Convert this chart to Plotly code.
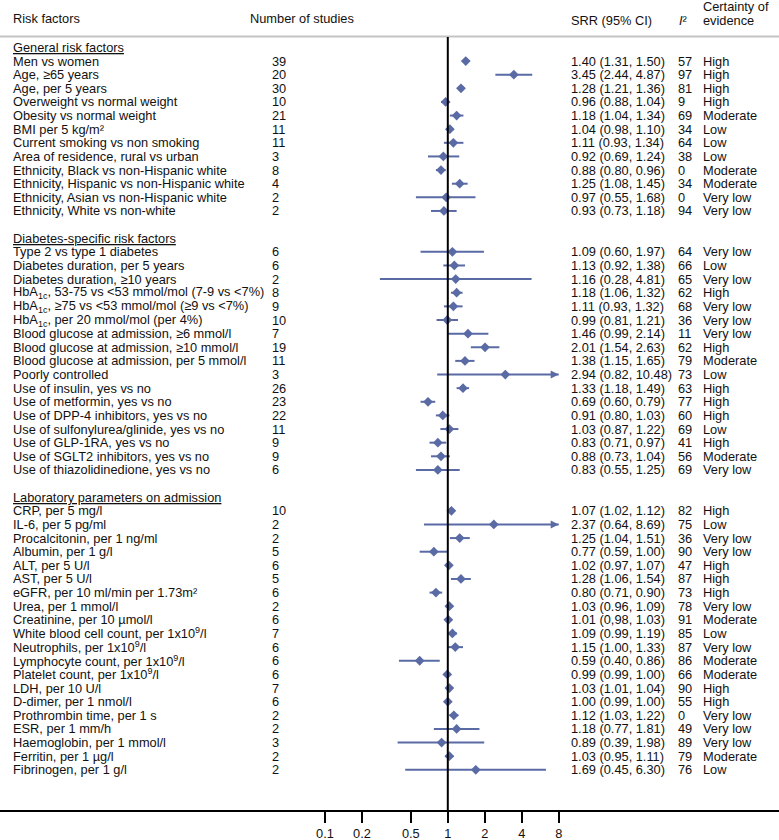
import plotly.graph_objects as go

# ---------------- data ----------------
gen_title = "General risk factors"
gen_labels = ["Men vs women", "Age, ≥65 years", "Age, per 5 years", "Overweight vs normal weight",
              "Obesity vs normal weight", "BMI per 5 kg/m²", "Current smoking vs non smoking",
              "Area of residence, rural vs urban", "Ethnicity, Black vs non-Hispanic white",
              "Ethnicity, Hispanic vs non-Hispanic white", "Ethnicity, Asian vs non-Hispanic white",
              "Ethnicity, White vs non-white"]
gen_n = [39, 20, 30, 10, 21, 11, 11, 3, 8, 4, 2, 2]
gen_srr = [1.40, 3.45, 1.28, 0.96, 1.18, 1.04, 1.11, 0.92, 0.88, 1.25, 0.97, 0.93]
gen_lo = [1.31, 2.44, 1.21, 0.88, 1.04, 0.98, 0.93, 0.69, 0.80, 1.08, 0.55, 0.73]
gen_hi = [1.50, 4.87, 1.36, 1.04, 1.34, 1.10, 1.34, 1.24, 0.96, 1.45, 1.68, 1.18]
gen_i2 = [57, 97, 81, 9, 69, 34, 64, 38, 0, 34, 0, 94]
gen_cert = ["High", "High", "High", "High", "Moderate", "Low", "Low", "Low", "Moderate",
            "Moderate", "Very low", "Very low"]

dia_title = "Diabetes-specific risk factors"
dia_labels = ["Type 2 vs type 1 diabetes", "Diabetes duration, per 5 years", "Diabetes duration, ≥10 years",
              "HbA<sub>1c</sub>, 53-75 vs &lt;53 mmol/mol (7-9 vs &lt;7%)",
              "HbA<sub>1c</sub>, ≥75 vs &lt;53 mmol/mol (≥9 vs &lt;7%)",
              "HbA<sub>1c</sub>, per 20 mmol/mol (per 4%)",
              "Blood glucose at admission, ≥6 mmol/l", "Blood glucose at admission, ≥10 mmol/l",
              "Blood glucose at admission, per 5 mmol/l", "Poorly controlled", "Use of insulin, yes vs no",
              "Use of metformin, yes vs no", "Use of DPP-4 inhibitors, yes vs no",
              "Use of sulfonylurea/glinide, yes vs no", "Use of GLP-1RA, yes vs no",
              "Use of SGLT2 inhibitors, yes vs no", "Use of thiazolidinedione, yes vs no"]
dia_n = [6, 6, 2, 8, 9, 10, 7, 19, 11, 3, 26, 23, 22, 11, 9, 9, 6]
dia_srr = [1.09, 1.13, 1.16, 1.18, 1.11, 0.99, 1.46, 2.01, 1.38, 2.94, 1.33, 0.69, 0.91, 1.03, 0.83, 0.88, 0.83]
dia_lo = [0.60, 0.92, 0.28, 1.06, 0.93, 0.81, 0.99, 1.54, 1.15, 0.82, 1.18, 0.60, 0.80, 0.87, 0.71, 0.73, 0.55]
dia_hi = [1.97, 1.38, 4.81, 1.32, 1.32, 1.21, 2.14, 2.63, 1.65, 10.48, 1.49, 0.79, 1.03, 1.22, 0.97, 1.04, 1.25]
dia_i2 = [64, 66, 65, 62, 68, 36, 11, 62, 79, 73, 63, 77, 60, 69, 41, 56, 69]
dia_cert = ["Very low", "Low", "Very low", "High", "Very low", "Very low", "Very low", "High", "Moderate",
            "Low", "High", "High", "High", "Low", "High", "Moderate", "Very low"]

lab_title = "Laboratory parameters on admission"
lab_labels = ["CRP, per 5 mg/l", "IL-6, per 5 pg/ml", "Procalcitonin, per 1 ng/ml", "Albumin, per 1 g/l",
              "ALT, per 5 U/l", "AST, per 5 U/l", "eGFR, per 10 ml/min per 1.73m²", "Urea, per 1 mmol/l",
              "Creatinine, per 10 µmol/l", "White blood cell count, per 1x10<sup>9</sup>/l",
              "Neutrophils, per 1x10<sup>9</sup>/l", "Lymphocyte count, per 1x10<sup>9</sup>/l",
              "Platelet count, per 1x10<sup>9</sup>/l", "LDH, per 10 U/l", "D-dimer, per 1 nmol/l",
              "Prothrombin time, per 1 s", "ESR, per 1 mm/h", "Haemoglobin, per 1 mmol/l",
              "Ferritin, per 1 µg/l", "Fibrinogen, per 1 g/l"]
lab_n = [10, 2, 2, 5, 6, 5, 6, 2, 6, 7, 6, 6, 6, 7, 6, 2, 2, 3, 2, 2]
lab_srr = [1.07, 2.37, 1.25, 0.77, 1.02, 1.28, 0.80, 1.03, 1.01, 1.09, 1.15, 0.59, 0.99, 1.03, 1.00,
           1.12, 1.18, 0.89, 1.03, 1.69]
lab_lo = [1.02, 0.64, 1.04, 0.59, 0.97, 1.06, 0.71, 0.96, 0.98, 0.99, 1.00, 0.40, 0.99, 1.01, 0.99,
          1.03, 0.77, 0.39, 0.95, 0.45]
lab_hi = [1.12, 8.69, 1.51, 1.00, 1.07, 1.54, 0.90, 1.09, 1.03, 1.19, 1.33, 0.86, 1.00, 1.04, 1.00,
          1.22, 1.81, 1.98, 1.11, 6.30]
lab_i2 = [82, 75, 36, 90, 47, 87, 73, 78, 91, 85, 87, 86, 66, 90, 55, 0, 49, 89, 79, 76]
lab_cert = ["High", "Low", "Very low", "Very low", "High", "High", "High", "Very low", "Moderate", "Low",
            "Very low", "Moderate", "Moderate", "High", "High", "Very low", "Very low", "Very low",
            "Moderate", "Low"]

# text exactly as printed in the source (typo kept)
ci_text_override = {"Creatinine, per 10 µmol/l": "1.01 (0,98, 1.03)"}

tick_vals = [0.1, 0.2, 0.5, 1, 2, 4, 8]
tick_text = ["0.1", "0.2", "0.5", "1", "2", "4", "8"]
x_cap = 8  # upper limit of the axis; CIs beyond are drawn as arrows

# ---------------- layout constants ----------------
W, H = 779, 840
BOTTOM = 30
PLOT_H = H - BOTTOM
ROW0_PX = 47.4
ROW_PX = 13.63
X1_PX = 447.8
DEC_PX = 122.8
COLOR = "#5a6aa5"
FONT = "Liberation Sans, Arial, sans-serif"
FS = 12.8
TXT = "#111111"
PAD = 2  # annotation inner padding

sections = [
    (gen_title, gen_labels, gen_n, gen_srr, gen_lo, gen_hi, gen_i2, gen_cert),
    (dia_title, dia_labels, dia_n, dia_srr, dia_lo, dia_hi, dia_i2, dia_cert),
    (lab_title, lab_labels, lab_n, lab_srr, lab_lo, lab_hi, lab_i2, lab_cert),
]

fig = go.Figure()
ann = []


def txt(x_px, y, s, yref="y", size=FS):
    ann.append(dict(x=(x_px - PAD) / W, xref="paper", y=y, yref=yref, text=s, showarrow=False,
                    xanchor="left", yanchor="middle", align="left",
                    font=dict(family=FONT, size=size, color=TXT)))


pt_x, pt_y = [], []
ln_x, ln_y = [], []
ar_x, ar_y = [], []
row = 0
for si, (title, labels, ns, srr, lo, hi, i2, cert) in enumerate(sections):
    if si > 0:
        row += 1  # blank spacer row
    txt(13, row, "<u>" + title + "</u>")
    row += 1
    for k in range(len(labels)):
        pt_x.append(srr[k]); pt_y.append(row)
        top = min(hi[k], x_cap)
        ln_x += [lo[k], top, None]; ln_y += [row, row, None]
        if hi[k] > x_cap:
            ar_x.append(x_cap); ar_y.append(row)
        txt(13, row, labels[k])
        txt(272, row, str(ns[k]))
        ci = ci_text_override.get(labels[k], f"{srr[k]:.2f} ({lo[k]:.2f}, {hi[k]:.2f})")
        txt(571, row, ci)
        txt(678, row, str(i2[k]))
        txt(703, row, cert[k])
        row += 1

fig.add_trace(go.Scatter(x=ln_x, y=ln_y, mode="lines", line=dict(color=COLOR, width=2),
                         hoverinfo="skip", showlegend=False))
fig.add_trace(go.Scatter(x=ar_x, y=ar_y, mode="markers",
                         marker=dict(symbol="arrow-right", size=8, color=COLOR, line=dict(width=0)),
                         hoverinfo="skip", showlegend=False))
fig.add_trace(go.Scatter(x=pt_x, y=pt_y, mode="markers",
                         marker=dict(symbol="diamond", size=7.5, color=COLOR, line=dict(width=0)),
                         showlegend=False))


# header (pixel y -> paper)
def py(ypx):
    return 1 - ypx / PLOT_H


txt(13, py(18.5), "Risk factors", yref="paper")
txt(250, py(18.5), "Number of studies", yref="paper")
txt(571, py(20.5), "SRR (95% CI)", yref="paper")
txt(679, py(20.5), "<i>I</i>²", yref="paper")
txt(703, py(7), "Certainty of", yref="paper")
txt(703, py(20.5), "evidence", yref="paper")

shapes = [
    dict(type="line", xref="paper", yref="paper", x0=0, x1=1, y0=py(36.5), y1=py(36.5),
         line=dict(color="#c4c4c4", width=2)),
    dict(type="line", xref="x", yref="paper", x0=1, x1=1, y0=0, y1=py(37),
         line=dict(color="black", width=2)),
]

x_lo = -X1_PX / DEC_PX
x_hi = (W - X1_PX) / DEC_PX
y_top = -ROW0_PX / ROW_PX
y_bot = (PLOT_H - ROW0_PX) / ROW_PX

fig.update_layout(
    width=W, height=H, margin=dict(l=0, r=0, t=0, b=BOTTOM),
    paper_bgcolor="white", plot_bgcolor="white",
    annotations=ann, shapes=shapes,
    font=dict(family=FONT, size=FS, color=TXT),
    xaxis=dict(type="log", range=[x_lo, x_hi], tickvals=tick_vals, ticktext=tick_text,
               showgrid=False, zeroline=False, showline=True, linecolor="black", linewidth=2,
               ticks="outside", ticklen=11, tickwidth=2, tickcolor="black",
               tickfont=dict(family=FONT, size=FS, color=TXT), fixedrange=True),
    yaxis=dict(range=[y_bot, y_top], visible=False, showgrid=False, zeroline=False, fixedrange=True),
)

fig.write_html("out.html", config={"displayModeBar": False},
               post_script="document.body.style.margin='0';document.body.style.overflow='hidden';")
